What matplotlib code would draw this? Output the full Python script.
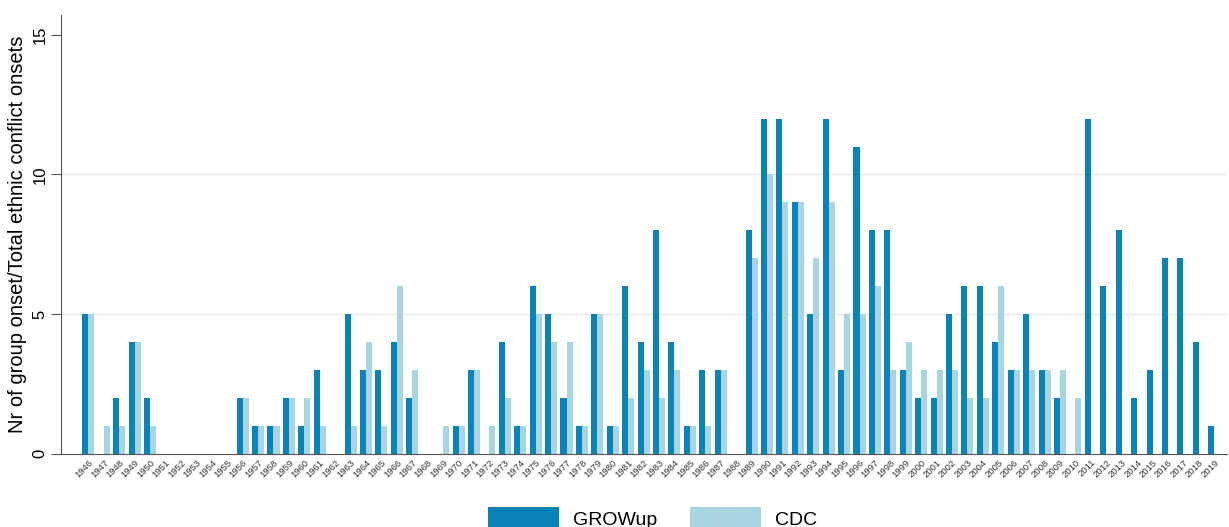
import numpy as np
import matplotlib.pyplot as plt

plt.rcParams['font.family'] = ['Liberation Sans', 'DejaVu Sans']

years = list(range(1946, 2020))

growup = [5, 0, 2, 4, 2, 0, 0, 0, 0, 0,
          2, 1, 1, 2, 1, 3, 0, 5, 3, 3,
          4, 2, 0, 0, 1, 3, 0, 4, 1, 6,
          5, 2, 1, 5, 1, 6, 4, 8, 4, 1,
          3, 3, 0, 8, 12, 12, 9, 5, 12, 3,
          11, 8, 8, 3, 2, 2, 5, 6, 6, 4,
          3, 5, 3, 2, 0, 12, 6, 8, 2, 3,
          7, 7, 4, 1]

cdc = [5, 1, 1, 4, 1, 0, 0, 0, 0, 0,
       2, 1, 1, 2, 2, 1, 0, 1, 4, 1,
       6, 3, 0, 1, 1, 3, 1, 2, 1, 5,
       4, 4, 1, 5, 1, 2, 3, 2, 3, 1,
       1, 3, 0, 7, 10, 9, 9, 7, 9, 5,
       5, 6, 3, 4, 3, 3, 3, 2, 2, 6,
       3, 3, 3, 3, 2, 0, 0, 0, 0, 0,
       0, 0, 0, 0]

dark = '#0a84b8'
light = '#a9d5e3'

x = np.arange(len(years))
w = 0.39

fig = plt.figure(figsize=(12.29, 5.27), dpi=100)
ax = fig.add_axes([0.050, 0.139, 0.948, 0.832])

ax.bar(x - w / 2, growup, width=w, color=dark, label='GROWup', zorder=2)
ax.bar(x + w / 2, cdc, width=w, color=light, label='CDC', zorder=2)

ax.set_xlim(-1.75, 73.8)
ax.set_ylim(0, 15.7)

# gridlines like stata: only the inner ones
for g in [5, 10]:
    ax.axhline(g, color='#e8e8e8', lw=1, zorder=0)

ax.set_yticks([0, 5, 10, 15])
ax.set_yticklabels(['0', '5', '10', '15'], rotation=90, va='center', fontsize=12)
ax.tick_params(axis='y', length=7, color='#555555', pad=3)

ax.set_xticks(x)
ax.set_xticklabels([str(y) for y in years], rotation=45, fontsize=6.8,
                   ha='right', rotation_mode='anchor', color='#333333')
ax.tick_params(axis='x', length=0, pad=3)

for s in ['top', 'right']:
    ax.spines[s].set_visible(False)
ax.spines['left'].set_color('#555555')
ax.spines['bottom'].set_color('#555555')

ax.set_ylabel('Nr of group onset/Total ethnic conflict onsets', fontsize=14.5,
              labelpad=4)

fig.legend(loc='lower center', bbox_to_anchor=(0.531, -0.04), ncol=2,
           frameon=False, fontsize=14, handlelength=3.65, handleheight=1.5,
           columnspacing=1.65, handletextpad=0.72)

fig.savefig('out.png', dpi=100)
